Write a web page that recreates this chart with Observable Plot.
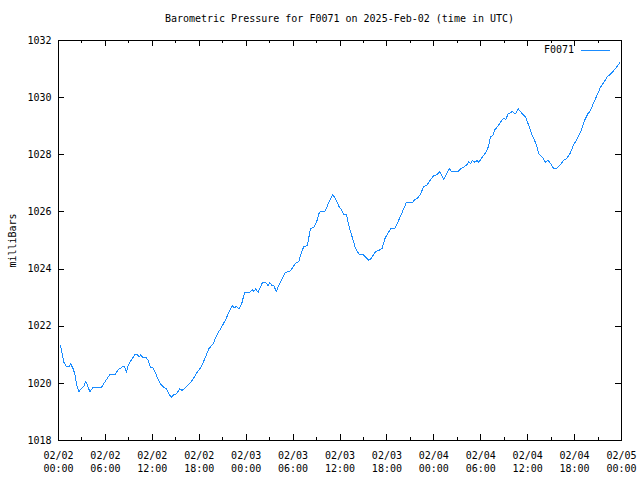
<!DOCTYPE html>
<html>
<head>
<meta charset="utf-8">
<script src="https://cdn.jsdelivr.net/npm/d3@7"></script>
<script src="https://cdn.jsdelivr.net/npm/@observablehq/plot@0.6"></script>
<style>
  body { margin: 0; background: #fff; font-family: "DejaVu Sans Mono", monospace; }
  #wrap { position: relative; width: 640px; height: 480px; }
  #title { box-sizing: border-box; height: 30px; padding-top: 14px; padding-left: 58px; width: 621px;
           text-align: center; font-size: 10px; line-height: 10px; color: #000; }
  #legend { position: absolute; left: 500px; top: 44px; width: 110px; height: 12px; font-size: 10px;
            line-height: 12px; color: #000; display: flex; justify-content: flex-end; align-items: center; }
  #legend .sw { display: inline-block; width: 29px; height: 0; border-top: 1px solid #1a8cff; margin-left: 7px; }
</style>
</head>
<body>
<div id="wrap">
  <div id="title">Barometric Pressure for F0071 on 2025-Feb-02 (time in UTC)</div>
  <div id="chart"></div>
  <div id="legend"><span>F0071</span><span class="sw"></span></div>
</div>
<script>
const station = "F0071";
const startISO = "2025-02-02T00:00:00Z";
const hours = [
  0.26, 0.68, 1.02, 1.37, 1.57, 1.88, 2.08, 2.30, 2.60, 2.94, 3.24, 3.49, 3.80, 4.00, 4.44, 5.50,
  6.05, 6.56, 7.20, 7.64, 8.27, 8.48, 8.70, 8.91, 9.34, 9.76, 10.10, 10.32, 10.53, 10.83, 11.25, 11.47,
  11.77, 12.11, 12.44, 12.62, 13.05, 13.47, 13.81, 14.11, 14.45, 14.75, 15.09, 15.51, 15.82, 16.46, 17.10, 17.74,
  18.25, 18.80, 19.22, 19.78, 20.21, 20.72, 21.36, 21.78, 22.22, 22.51, 22.77, 23.06, 23.40, 23.79, 24.47, 24.77,
  24.98, 25.20, 25.54, 25.83, 26.05, 26.47, 26.82, 27.02, 27.33, 27.54, 27.84, 28.17, 28.61, 29.03, 29.58, 29.89,
  30.31, 30.73, 31.08, 31.37, 31.81, 32.23, 32.65, 33.00, 33.29, 33.51, 34.06, 34.49, 35.08, 35.43, 35.85, 36.11,
  36.49, 36.83, 37.13, 37.56, 37.98, 38.40, 38.97, 39.39, 39.68, 39.99, 40.54, 40.96, 41.40, 41.73, 42.04, 42.46,
  43.01, 43.52, 43.96, 44.47, 45.24, 45.53, 45.95, 46.30, 46.72, 47.15, 47.58, 48.00, 48.43, 48.77, 49.28, 49.71,
  50.01, 50.26, 51.12, 51.41, 51.84, 52.27, 52.48, 52.69, 52.91, 53.24, 53.55, 53.75, 54.19, 54.61, 54.96, 55.25,
  55.54, 55.80, 56.31, 56.75, 56.95, 57.17, 57.51, 58.02, 58.45, 58.79, 59.21, 59.73, 60.15, 60.58, 60.92, 61.13,
  61.43, 61.86, 62.28, 62.58, 62.92, 63.35, 63.69, 64.20, 64.62, 64.97, 65.39, 65.83, 66.34, 66.76, 67.27, 67.69,
  68.04, 68.46, 68.90, 69.32, 69.74, 70.17, 70.59, 71.02, 71.45, 71.79
];
const pressure = [
  1021.32, 1020.74, 1020.59, 1020.59, 1020.68, 1020.51, 1020.33, 1019.98, 1019.71, 1019.83, 1019.89, 1020.07, 1019.86, 1019.71, 1019.86, 1019.86,
  1020.10, 1020.30, 1020.30, 1020.48, 1020.59, 1020.57, 1020.39, 1020.62, 1020.83, 1021.00, 1021.00, 1020.92, 1021.00, 1020.89, 1020.89, 1020.80,
  1020.57, 1020.53, 1020.36, 1020.21, 1019.98, 1019.86, 1019.81, 1019.63, 1019.52, 1019.60, 1019.63, 1019.81, 1019.75, 1019.92, 1020.10, 1020.39,
  1020.57, 1020.92, 1021.21, 1021.38, 1021.67, 1021.91, 1022.22, 1022.49, 1022.72, 1022.64, 1022.70, 1022.61, 1022.76, 1023.17, 1023.19, 1023.28,
  1023.21, 1023.31, 1023.19, 1023.37, 1023.51, 1023.54, 1023.42, 1023.52, 1023.42, 1023.42, 1023.21, 1023.42, 1023.66, 1023.89, 1023.91, 1024.03,
  1024.20, 1024.26, 1024.59, 1024.79, 1024.82, 1025.41, 1025.47, 1025.64, 1025.93, 1026.01, 1026.01, 1026.28, 1026.60, 1026.46, 1026.20, 1026.11,
  1025.91, 1025.90, 1025.52, 1025.12, 1024.73, 1024.53, 1024.50, 1024.39, 1024.30, 1024.38, 1024.61, 1024.65, 1024.73, 1025.06, 1025.21, 1025.41,
  1025.41, 1025.72, 1025.99, 1026.32, 1026.32, 1026.42, 1026.49, 1026.63, 1026.89, 1026.95, 1027.13, 1027.27, 1027.31, 1027.41, 1027.13, 1027.39,
  1027.51, 1027.41, 1027.41, 1027.51, 1027.57, 1027.66, 1027.76, 1027.68, 1027.80, 1027.74, 1027.80, 1027.74, 1027.92, 1028.07, 1028.27, 1028.62,
  1028.67, 1028.87, 1029.05, 1029.23, 1029.29, 1029.22, 1029.43, 1029.51, 1029.43, 1029.61, 1029.47, 1029.32, 1029.02, 1028.67, 1028.48, 1028.32,
  1028.03, 1027.92, 1027.74, 1027.82, 1027.70, 1027.51, 1027.53, 1027.65, 1027.82, 1027.86, 1028.03, 1028.32, 1028.56, 1028.79, 1029.20, 1029.43,
  1029.55, 1029.84, 1030.10, 1030.37, 1030.54, 1030.72, 1030.83, 1030.95, 1031.10, 1031.22
];
const yTicks = [1018, 1020, 1022, 1024, 1026, 1028, 1030, 1032];
const xMajorHours = [0, 6, 12, 18, 24, 30, 36, 42, 48, 54, 60, 66, 72];
const xMinorHours = [3, 9, 15, 21, 27, 33, 39, 45, 51, 57, 63, 69];

const t0 = new Date(startISO).getTime();
const toDate = h => new Date(t0 + h * 3600e3);
const data = hours.map((h, i) => ({time: toDate(h), value: pressure[i]}));
const xMajor = xMajorHours.map(toDate);
const xMinor = xMinorHours.map(toDate);

const W = 640, H = 450, mL = 58, mR = 19, mT = 10, mB = 40;
const fw = W - mL - mR, fh = H - mT - mB;
const major = 6, minor = 3;
const fmt = d3.utcFormat("%m/%d\n%H:%M");

const chart = Plot.plot({
  width: W, height: H,
  marginLeft: mL, marginRight: mR, marginTop: mT, marginBottom: mB,
  style: {fontFamily: "'DejaVu Sans Mono', monospace", fontSize: "10px", color: "#000", background: "#fff"},
  x: {type: "utc", domain: [toDate(0), toDate(72)]},
  y: {domain: [1018, 1032]},
  marks: [
    Plot.axisX({ticks: xMajor, tickSize: 0, tickPadding: 9, tickFormat: fmt, lineHeight: 1.3, label: null}),
    Plot.axisY({ticks: yTicks, tickSize: 0, tickPadding: 7, tickFormat: d => String(d),
                label: "milliBars", labelAnchor: "center", labelArrow: "none", labelOffset: 50}),
    Plot.tickX(xMajor, {x: d => d, insetTop: fh - major, stroke: "#000", shapeRendering: "crispEdges"}),
    Plot.tickX(xMajor, {x: d => d, insetBottom: fh - major, stroke: "#000", shapeRendering: "crispEdges"}),
    Plot.tickX(xMinor, {x: d => d, insetTop: fh - minor, stroke: "#000", shapeRendering: "crispEdges"}),
    Plot.tickX(xMinor, {x: d => d, insetBottom: fh - minor, stroke: "#000", shapeRendering: "crispEdges"}),
    Plot.tickY(yTicks, {y: d => d, insetRight: fw - major, stroke: "#000", shapeRendering: "crispEdges"}),
    Plot.tickY(yTicks, {y: d => d, insetLeft: fw - major, stroke: "#000", shapeRendering: "crispEdges"}),
    Plot.line(data, {x: "time", y: "value", stroke: "#1a8cff", strokeWidth: 1, shapeRendering: "crispEdges"}),
    Plot.frame({stroke: "#000", shapeRendering: "crispEdges"})
  ]
});
document.getElementById("chart").appendChild(chart);
</script>
</body>
</html>
